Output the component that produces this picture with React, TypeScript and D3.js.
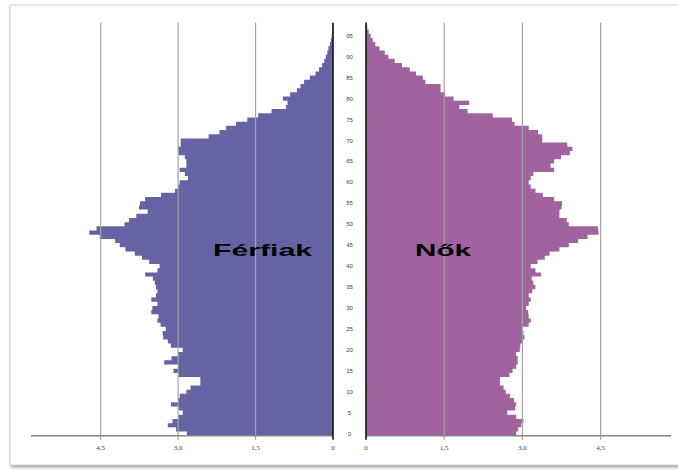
import { useEffect, useRef } from 'react'
import * as d3 from 'd3'

// age groups 0..98, one bar per year of age
const ages = d3.range(0, 99)

// share of population (%)
const males = [
  2.83, 3.04, 3.2, 3.11, 2.99, 2.91, 2.99, 3.14, 3.0, 2.97,
  2.84, 2.76, 2.57, 2.57, 2.99, 3.09, 3.0, 3.27, 3.13, 3.0,
  2.91, 3.14, 3.2, 3.29, 3.3, 3.24, 3.34, 3.4, 3.38, 3.52,
  3.5, 3.4, 3.52, 3.43, 3.4, 3.43, 3.45, 3.49, 3.64, 3.4,
  3.36, 3.56, 3.7, 3.84, 4.02, 4.13, 4.22, 4.52, 4.72, 4.58,
  4.04, 3.95, 3.81, 3.59, 3.76, 3.74, 3.64, 3.33, 3.06, 3.0,
  2.97, 2.81, 2.87, 2.97, 2.84, 2.84, 2.87, 2.99, 3.0, 2.95,
  2.95, 2.41, 2.2, 2.07, 1.88, 1.66, 1.45, 1.19, 0.91, 0.88,
  0.97, 0.83, 0.7, 0.63, 0.56, 0.45, 0.34, 0.27, 0.21, 0.17,
  0.14, 0.11, 0.09, 0.06, 0.04, 0.025, 0.015, 0.008, 0.004,
]

const females = [
  2.88, 2.92, 2.98, 3.02, 2.88, 2.71, 2.86, 2.88, 2.84, 2.76,
  2.68, 2.64, 2.57, 2.57, 2.75, 2.81, 2.88, 2.91, 2.91, 2.88,
  2.95, 2.96, 3.0, 3.04, 3.02, 3.0, 3.12, 3.16, 3.12, 3.11,
  3.07, 3.12, 3.16, 3.12, 3.19, 3.25, 3.21, 3.18, 3.36, 3.25,
  3.16, 3.29, 3.43, 3.52, 3.71, 3.89, 4.07, 4.25, 4.46, 4.45,
  3.89, 3.85, 3.71, 3.71, 3.75, 3.76, 3.61, 3.39, 3.25, 3.16,
  3.12, 3.16, 3.21, 3.61, 3.54, 3.61, 3.74, 3.91, 3.96, 3.86,
  3.38, 3.38, 3.3, 3.12, 2.85, 2.8, 2.43, 1.95, 1.79, 1.98,
  1.68, 1.52, 1.43, 1.43, 1.14, 1.09, 0.96, 0.84, 0.69, 0.55,
  0.43, 0.36, 0.26, 0.18, 0.13, 0.09, 0.05, 0.025, 0.01,
]

const xTicks = [0, 1.5, 3.0, 4.5]
const xTickLabels = ['0', '1,5', '3,0', '4,5']
const ageTicks = d3.range(0, 100, 5)

const W = 678
const H = 470
const MALE_COLOR = '#6563a3'
const FEMALE_COLOR = '#a163a0'

export default function App() {
  const svgRef = useRef<SVGSVGElement>(null)

  useEffect(() => {
    if (!svgRef.current) return
    const svg = d3.select(svgRef.current)
    svg.selectAll('*').remove()

    const bottom = 435.7
    const top = bottom - ages.length * 4.187
    const y = d3.scaleBand<number>().domain(ages).range([bottom, top]).paddingInner(0)
    const xL = d3.scaleLinear().domain([0, 5.85]).range([333, 31])
    const xR = d3.scaleLinear().domain([0, 5.85]).range([366, 671])

    // panel with soft shadow
    const defs = svg.append('defs')
    const f = defs.append('filter').attr('id', 'shadow').attr('x', '-5%').attr('y', '-5%').attr('width', '110%').attr('height', '110%')
    f.append('feDropShadow')
      .attr('dx', 1)
      .attr('dy', 2)
      .attr('stdDeviation', 1.6)
      .attr('flood-color', '#777')
      .attr('flood-opacity', 0.7)

    svg
      .append('rect')
      .attr('x', 10)
      .attr('y', 5)
      .attr('width', 720)
      .attr('height', 460)
      .attr('fill', '#fff')
      .attr('stroke', '#d0d0d0')
      .attr('stroke-width', 0.8)
      .attr('filter', 'url(#shadow)')

    // each side as one stepped outline so neighbouring bars don't show seams
    const stepPoints = (vals: number[]) =>
      ages.flatMap((a) => [
        { v: vals[a], y: y(a)! + y.bandwidth() },
        { v: vals[a], y: y(a)! },
      ])

    const areaL = d3
      .area<{ v: number; y: number }>()
      .y((d) => d.y)
      .x0(xL(0))
      .x1((d) => xL(d.v))
    const areaR = d3
      .area<{ v: number; y: number }>()
      .y((d) => d.y)
      .x0(xR(0))
      .x1((d) => xR(d.v))

    svg.append('path').attr('d', areaL(stepPoints(males))).attr('fill', MALE_COLOR)
    svg.append('path').attr('d', areaR(stepPoints(females))).attr('fill', FEMALE_COLOR)

    // gridlines, drawn over the bars
    const gridTop = top + 1.5
    const grid = svg.append('g').attr('stroke', '#a4a4a4').attr('stroke-width', 1.2)
    xTicks.slice(1).forEach((t) => {
      grid.append('line').attr('x1', xL(t)).attr('x2', xL(t)).attr('y1', gridTop).attr('y2', bottom + 4)
      grid.append('line').attr('x1', xR(t)).attr('x2', xR(t)).attr('y1', gridTop).attr('y2', bottom + 4)
    })

    // horizontal axes
    svg.append('line').attr('x1', xL(5.85)).attr('x2', xL(0)).attr('y1', bottom).attr('y2', bottom)
      .attr('stroke', '#858585').attr('stroke-width', 1.6)
    svg.append('line').attr('x1', xR(0)).attr('x2', xR(5.85)).attr('y1', bottom).attr('y2', bottom)
      .attr('stroke', '#858585').attr('stroke-width', 1.6)

    // zero lines
    svg.append('line').attr('x1', xL(0)).attr('x2', xL(0)).attr('y1', gridTop).attr('y2', bottom + 4)
      .attr('stroke', '#111').attr('stroke-width', 1.6)
    svg.append('line').attr('x1', xR(0)).attr('x2', xR(0)).attr('y1', gridTop).attr('y2', bottom + 4)
      .attr('stroke', '#111').attr('stroke-width', 1.6)

    // x tick labels
    const xl = svg.append('g')
      .attr('font-family', '"Liberation Serif", serif')
      .attr('font-size', 7)
      .attr('fill', '#444')
      .attr('text-anchor', 'middle')
    xTicks.forEach((t, i) => {
      xl.append('text').attr('x', xL(t)).attr('y', bottom + 14.5).text(xTickLabels[i])
      xl.append('text').attr('x', xR(t)).attr('y', bottom + 14.5).text(xTickLabels[i])
    })

    // age labels in the middle
    svg
      .append('g')
      .attr('font-family', '"Liberation Sans", Arial, sans-serif')
      .attr('font-size', 6)
      .attr('fill', '#444')
      .attr('text-anchor', 'middle')
      .selectAll('text')
      .data(ageTicks)
      .join('text')
      .attr('x', (xL(0) + xR(0)) / 2)
      .attr('y', (a) => y(a)! + y.bandwidth() / 2 + 2)
      .text((a) => a)

    // series names
    const names = svg.append('g')
      .attr('font-family', '"Liberation Sans", Arial, sans-serif')
      .attr('font-weight', 'bold')
      .attr('font-size', 17)
      .attr('fill', '#000')
    names.append('text').attr('x', 213).attr('y', 256)
      .attr('textLength', 99).attr('lengthAdjust', 'spacingAndGlyphs').text('Férfiak')
    names.append('text').attr('x', 415).attr('y', 256)
      .attr('textLength', 56).attr('lengthAdjust', 'spacingAndGlyphs').text('Nők')
  }, [])

  return (
    <div style={{ position: 'absolute', left: 0, top: 0, width: W, height: H, background: '#fff' }}>
      <svg ref={svgRef} width={W} height={H} style={{ display: 'block' }} />
    </div>
  )
}
